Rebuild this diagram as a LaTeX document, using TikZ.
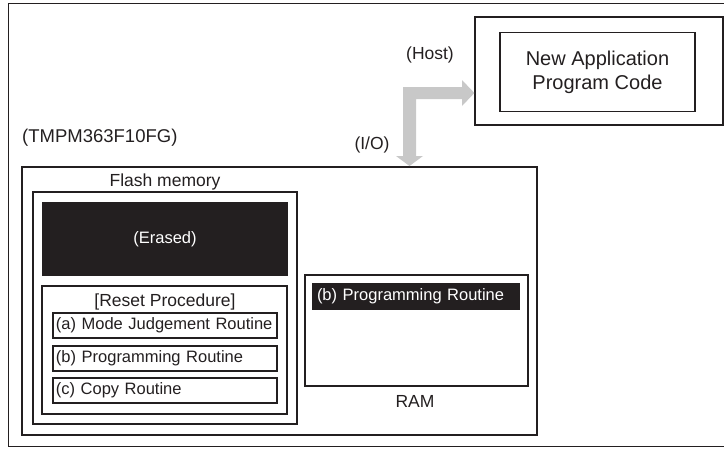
\documentclass[tikz,border=0pt]{standalone}
\usepackage{fontspec}
\setmainfont{Liberation Sans}
\definecolor{ink}{HTML}{231F20}
\definecolor{arrowgray}{HTML}{C8C8C8}
\begin{document}
\begin{tikzpicture}[x=1pt,y=-1pt,
  box/.style={draw=ink, line width=1.2pt, inner sep=0pt},
  darkbox/.style={fill=ink, text=white, inner sep=0pt},
  txt/.style={text=ink, inner sep=0pt, font=\fontsize{16.5}{19}\selectfont},
  biglbl/.style={text=ink, inner sep=0pt, font=\fontsize{17.5}{20}\selectfont},
  routine/.style={box, txt, text width=218pt, inner xsep=3pt, inner ysep=0pt,
                  minimum height=25pt, align=left},
  frameline/.style={draw=ink, line width=1pt}
]
\useasboundingbox (0,0) rectangle (724,448);

% outer frame
\draw[frameline] (724,3) -- (8,3) -- (8,446) -- (724,446);

% host side
\node[box, minimum width=248pt, minimum height=108pt] (host) at (599,71) {};
\node[box, minimum width=195pt, minimum height=79pt, text=ink,
      font=\fontsize{20}{24}\selectfont, align=center] (code) at (597.5,72)
      {New Application\\Program Code};
\node[biglbl] (hostlbl) at (430,55) {(Host)};

% chip
\node[text=ink, inner sep=0pt, font=\fontsize{18.5}{21}\selectfont, anchor=west]
      (chiplbl) at (22,138) {(TMPM363F10FG)};
\node[box, minimum width=515pt, minimum height=268pt] (chip) at (279.5,301) {};
\node[biglbl] (iolbl) at (372,145) {(I/O)};

% flash memory
\node[box, minimum width=264pt, minimum height=232pt] (flash) at (165,308) {};
\node[biglbl] (flashlbl) at (165,182) {Flash memory};
\node[darkbox, minimum width=246pt, minimum height=74pt,
      font=\fontsize{16.5}{19}\selectfont] (erased) at (165,239) {(Erased)};
\node[box, minimum width=245pt, minimum height=128pt] (reset) at (164.5,350) {};
\node[biglbl] (resetlbl) at (165,302) {[Reset Procedure]};
\node[routine] (ra) at (165,325.5) {(a) Mode Judgement Routine};
\node[routine] (rb) at (165,358.5) {(b) Programming Routine};
\node[routine] (rc) at (165,390.5) {(c) Copy Routine};

% RAM
\node[box, minimum width=223pt, minimum height=111pt] (ram) at (416.5,330.5) {};
\node[darkbox, text width=198pt, inner xsep=5pt, minimum height=27pt, align=left,
      font=\fontsize{16.5}{19}\selectfont] (ramprog) at (416,296.5) {(b) Programming Routine};
\node[biglbl] (ramlbl) at (415,401) {RAM};

% gray L-shaped double arrow between chip and host
\fill[arrowgray] (403,87) -- (462,87) -- (462,80) -- (host.west |- 0,93) -- (462,106)
  -- (462,99) -- (416,99) -- (416,156) -- (423,156) -- (409.5,166) -- (396,156)
  -- (403,156) -- cycle;
\end{tikzpicture}
\end{document}
